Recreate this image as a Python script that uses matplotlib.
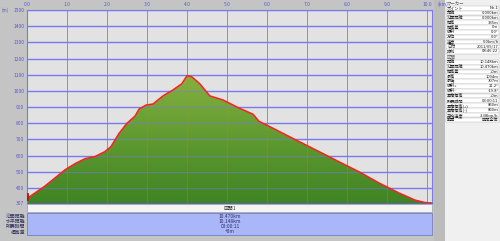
import matplotlib.pyplot as plt
import numpy as np
from matplotlib.patches import Rectangle, Polygon
from matplotlib.colors import LinearSegmentedColormap

plt.rcParams["font.family"] = ["Noto Sans CJK JP", "DejaVu Sans"]

###############################################################################

BG = "#c4c4c4"
PLOT_BG = "#e2e2e2"
GRID_BLUE = "#7878f0"
GRID_DARK = "#8a8aa8"
TEXT_BLUE = "#5a5ac8"
RED = "#ff2020"
BOX_BLUE = "#a9b7f8"
PANEL = "#f0f0f0"

###############################################################################

# profile: horizontal distance (km) and elevation (m)
dist_km = [0.0, 0.2, 0.45, 0.7, 0.95, 1.2, 1.45, 1.7, 1.95, 2.1, 2.3, 2.5,
           2.7, 2.8, 2.97, 3.15, 3.4, 3.65, 3.87, 4.0, 4.12, 4.32, 4.57, 4.9,
           5.3, 5.65, 5.8, 6.15, 6.3, 6.8, 7.3, 7.8, 8.3, 8.8, 9.3, 9.7,
           9.95, 10.13]
elev_m = [335, 369, 412, 462, 512, 550, 581, 594, 625, 656, 737, 800,
          844, 887, 912, 919, 969, 1006, 1044, 1094, 1087, 1044, 969, 944,
          894, 856, 812, 769, 750, 687, 625, 562, 500, 431, 369, 325,
          310, 307]

x_ticks = [0, 1, 2, 3, 4, 5, 6, 7, 8, 9, 10]
y_ticks = [307, 400, 500, 600, 700, 800, 900, 1000, 1100, 1200, 1300, 1400,
           1500]

section_labels = ["沿面距離", "水平距離", "所要時間", "標高差"]
section_values = ["10.470km", "10.148km", "03:00:11", "+0m"]

marker_rows = [("ポイント", "No.1"), ("距離", "0.000km"),
               ("沿面距離", "0.000km"), ("標高", "335m"), ("標高差", "0m"),
               ("傾斜", "0.0°"), ("方位", "0.0°"), ("速度", "0.0km/h"),
               ("日付", "2011/09/17"), ("時刻", "08:46:22")]
range_rows = [("距離", "10.148km"), ("沿面距離", "10.470km"),
              ("標高差", "+0m"), ("最高", "1094m"), ("最低", "307m"),
              ("傾斜+", "21.2°"), ("傾斜-", "-19.8°"), ("累積標高", "+0m"),
              ("所要時間", "03:00:11"), ("累積標高(+)", "860m"),
              ("累積標高(-)", "860m"), ("平均速度", "3.38km/h"),
              ("範囲", "区間全体")]

###############################################################################

W, H = 500, 241
fig = plt.figure(figsize=(W / 100, H / 100), dpi=100, facecolor=BG)

# pixel-coordinate layer for the window furniture
bg = fig.add_axes([0, 0, 1, 1], zorder=0)
bg.set_xlim(0, W)
bg.set_ylim(H, 0)
bg.axis("off")

L, R, T, B = 27, 432, 10, 203


def px(x0, y0, x1, y1):
    return [x0 / W, 1 - y1 / H, (x1 - x0) / W, (y1 - y0) / H]


# section strip under the profile
bg.add_patch(Rectangle((L, 204), R - L, 8, fc="#f4f4f4", ec="#9a9ab0", lw=0.5))
bg.text(236, 208, "区間1", fontsize=3.5, ha="right", va="center", color="#303030")
bg.add_patch(Rectangle((L, 213), R - L, 22, fc=BOX_BLUE, ec="#7080c0", lw=0.6))
for i, (lab, val) in enumerate(zip(section_labels, section_values)):
    yy = 216 + i * 5.3
    bg.text(25, yy, lab, fontsize=3.5, ha="right", va="center", color="#303060")
    bg.text(230, yy, val, fontsize=3.5, ha="center", va="center", color="#303060")

# right information panel
bg.add_patch(Rectangle((445, 0), 55, H, fc=PANEL, ec="none"))
bg.add_patch(Rectangle((434, 0), 11, H, fc="#bcbcbc", ec="none"))
bg.text(447, 2.5, "マーカー", fontsize=3.2, va="center", color="#606060")
for i, (k, v) in enumerate(marker_rows):
    yy = 6 + i * 4.8
    bg.add_patch(Rectangle((446, yy), 53, 4.6, fc="white", ec="#b0b0b0", lw=0.3))
    bg.text(447, yy + 2.3, k, fontsize=3.0, va="center", color="#202020")
    bg.text(498.5, yy + 2.3, v, fontsize=3.0, va="center", ha="right", color="#202020")
bg.text(447, 57, "区間", fontsize=3.2, va="center", color="#606060")
for i, (k, v) in enumerate(range_rows):
    yy = 60 + i * 4.8
    bg.add_patch(Rectangle((446, yy), 53, 4.6, fc="white", ec="#b0b0b0", lw=0.3))
    bg.text(447, yy + 2.3, k, fontsize=3.0, va="center", color="#202020")
    bg.text(498.5, yy + 2.3, v, fontsize=3.0, va="center", ha="right", color="#202020")

###############################################################################

ax = fig.add_axes(px(L, T, R, B), zorder=1)
ax.set_facecolor(PLOT_BG)
ax.set_xlim(0, (R - L) / 40.0)
ax.set_ylim(307, 1500)

for yt in y_ticks[1:]:
    ax.axhline(yt, color=GRID_BLUE, lw=0.9, zorder=1)
for xt in x_ticks[1:]:
    ax.axvline(xt, color=GRID_DARK, lw=0.6, zorder=1)

# gradient green fill clipped to the profile
poly = Polygon(list(zip(dist_km, elev_m)) + [(dist_km[-1], 307), (0, 307)],
               closed=True, fc="none", ec="none")
ax.add_patch(poly)
greens = LinearSegmentedColormap.from_list("g", ["#3f8424", "#5f9a30", "#86b040"])
grad = np.linspace(0, 1, 256).reshape(-1, 1)
img = ax.imshow(grad, cmap=greens, origin="lower", aspect="auto",
                extent=[0, dist_km[-1], 307, max(elev_m)], zorder=2)
img.set_clip_path(poly)
for yt in y_ticks[1:]:
    ax.axhline(yt, color=GRID_BLUE, lw=0.9, alpha=0.45, zorder=3)
for xt in x_ticks[1:]:
    ax.axvline(xt, color=GRID_DARK, lw=0.6, alpha=0.35, zorder=3)

ax.plot(dist_km, elev_m, color=RED, lw=1.1, zorder=4)
ax.plot([0, 0], [330, 365], color="#c01010", lw=2.0, zorder=5)

for s in ax.spines.values():
    s.set_color(GRID_BLUE)
    s.set_linewidth(0.8)
ax.spines["bottom"].set_color("#5a6aa0")

ax.xaxis.tick_top()
ax.set_xticks(x_ticks, [f"{v:.1f}" for v in x_ticks])
ax.set_yticks(y_ticks, [str(v) for v in y_ticks])
ax.tick_params(axis="both", length=0, labelsize=3.5, colors=TEXT_BLUE, pad=2)
fig.text(2 / W, 1 - 10 / H, "(m)", fontsize=3.2, color=TEXT_BLUE, va="center")
fig.text(437 / W, 1 - 4 / H, "(km)", fontsize=3.5, color=TEXT_BLUE, va="center")

fig.savefig("out.png", dpi=100, facecolor=BG)
